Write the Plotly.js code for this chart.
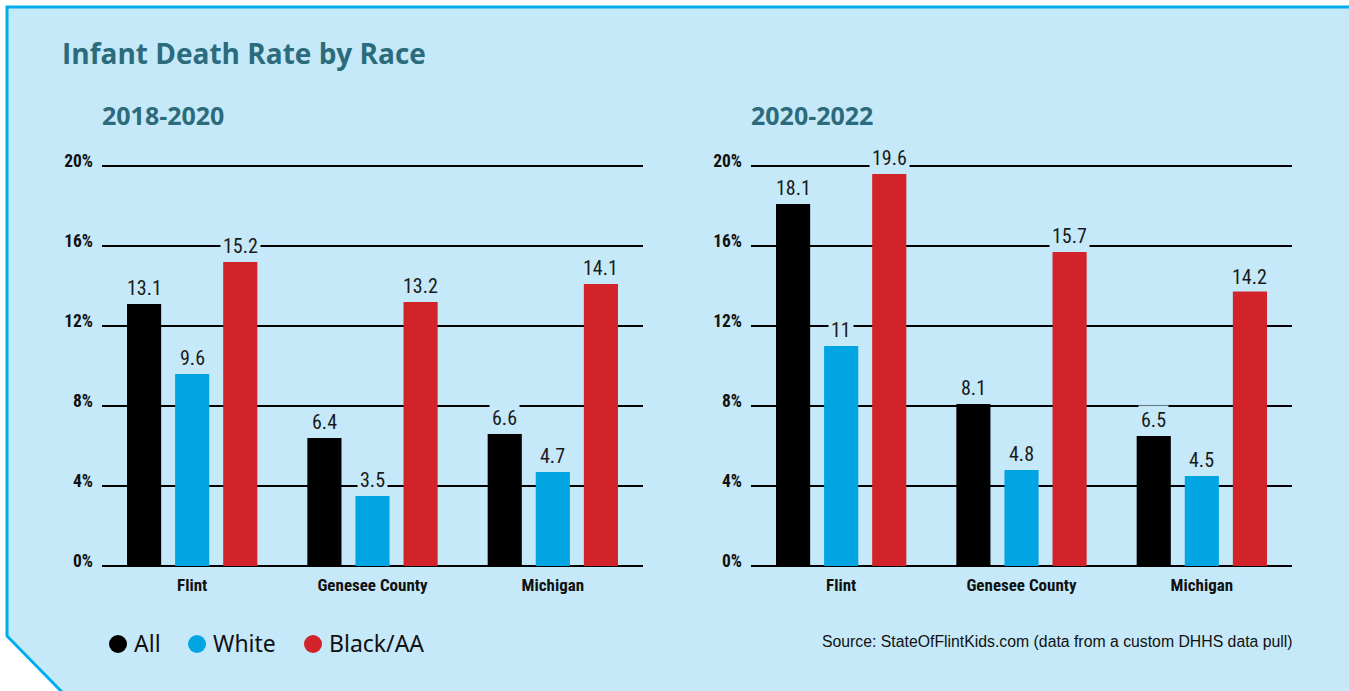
<!DOCTYPE html>
<html>
<head>
<meta charset="utf-8">
<script src="https://cdn.plot.ly/plotly-3.0.1.min.js"></script>
<style>
  html, body { margin: 0; padding: 0; background: #ffffff; }
  #chart { width: 1349px; height: 691px; }
</style>
</head>
<body>
<div id="chart"></div>
<script>
// ---------- data ----------
const categories = ['Flint', 'Genesee County', 'Michigan'];
const seriesNames = ['All', 'White', 'Black/AA'];
const periods = ['2018-2020', '2020-2022'];

const all_2018 = [13.1, 6.4, 6.6];
const white_2018 = [9.6, 3.5, 4.7];
const black_2018 = [15.2, 13.2, 14.1];

const all_2020 = [18.1, 8.1, 6.5];
const white_2020 = [11, 4.8, 4.5];
const black_2020 = [19.6, 15.7, 14.2];

const yTickVals = [0, 4, 8, 12, 16, 20];
const yTickText = ['0%', '4%', '8%', '12%', '16%', '20%'];

const chartTitle = 'Infant Death Rate by Race';
const sourceText = 'Source: StateOfFlintKids.com (data from a custom DHHS data pull)';

// ---------- style ----------
const W = 1349, H = 691;
const BG = '#c6e9f9';
const BORDER = '#00aeef';
const TEAL = '#2b6b7b';
const seriesColors = ['#000000', '#00a5e2', '#d2232a'];
const BARGAP = 0.2, BARGROUPGAP = 0.29;
const NARROW = '"Roboto Condensed", "Liberation Sans Narrow", "DejaVu Sans Condensed", "DejaVu Sans", sans-serif';
const px = v => v / W;
const py = v => 1 - v / H;

const panels = [
  { x0: 102, x1: 643, data: [all_2018, white_2018, black_2018], xa: 'x', ya: 'y' },
  { x0: 751, x1: 1292, data: [all_2020, white_2020, black_2020], xa: 'x2', ya: 'y2' }
];
const yTop = 162, yBot = 566; // pixel rows for range ends (0 .. 20.2)

// the right-hand Michigan Black/AA label sits over its bar top in the original
const labelShiftOverride = { '1-2-2': -10 };

const traces = [];
const annotations = [];

panels.forEach((p, pi) => {
  p.data.forEach((vals, si) => {
    traces.push({
      type: 'bar',
      name: seriesNames[si],
      x: categories,
      y: vals,
      xaxis: p.xa,
      yaxis: p.ya,
      marker: { color: seriesColors[si], line: { width: 0 } },
      showlegend: false,
      hoverinfo: 'x+y'
    });
    const catW = (p.x1 - p.x0) / categories.length;
    const slot = catW * (1 - BARGAP) / seriesNames.length;
    vals.forEach((v, ci) => {
      const key = pi + '-' + si + '-' + ci;
      annotations.push({
        xref: p.xa, yref: p.ya,
        x: categories[ci], y: v,
        xanchor: 'center', yanchor: 'bottom',
        xshift: (si - 1) * slot,
        yshift: key in labelShiftOverride ? labelShiftOverride[key] : 1,
        text: String(v),
        showarrow: false,
        bgcolor: BG,
        borderpad: 2,
        font: { family: NARROW, size: 20, color: '#1a1a1a' }
      });
    });
  });
  annotations.push({
    xref: 'paper', yref: 'paper',
    x: px(p.x0 - 2), y: py(115),
    xanchor: 'left', yanchor: 'middle',
    text: '<b>' + periods[pi] + '</b>',
    showarrow: false,
    font: { family: '"Open Sans", sans-serif', size: 25, color: TEAL }
  });
});

annotations.push({
  xref: 'paper', yref: 'paper',
  x: px(60), y: py(53),
  xanchor: 'left', yanchor: 'middle',
  text: '<b>' + chartTitle + '</b>',
  showarrow: false,
  font: { family: '"Open Sans", sans-serif', size: 28, color: TEAL }
});

annotations.push({
  xref: 'paper', yref: 'paper',
  x: px(1295), y: py(641),
  xanchor: 'right', yanchor: 'middle',
  text: sourceText,
  showarrow: false,
  font: { family: '"Liberation Sans", Arial, sans-serif', size: 15.8, color: '#111111' }
});

// legend (circles + labels)
const legendCircleX = [118, 197, 313];
const shapes = [];
shapes.push({
  type: 'path', xref: 'paper', yref: 'paper', layer: 'below',
  path: `M ${px(7)} ${py(7)} L ${px(W)} ${py(7)} L ${px(W)} ${py(H)} L ${px(62)} ${py(H)} L ${px(7)} ${py(636)} Z`,
  fillcolor: BG, line: { width: 0 }
});
shapes.push({
  type: 'path', xref: 'paper', yref: 'paper', layer: 'below',
  path: `M ${px(W + 5)} ${py(7)} L ${px(7)} ${py(7)} L ${px(7)} ${py(636)} L ${px(62)} ${py(H + 1)}`,
  line: { color: BORDER, width: 3 }
});
seriesNames.forEach((n, i) => {
  const cx = legendCircleX[i], cy = 644, r = 9;
  shapes.push({
    type: 'circle', xref: 'paper', yref: 'paper', layer: 'above',
    x0: px(cx - r), x1: px(cx + r), y0: py(cy + r), y1: py(cy - r),
    fillcolor: seriesColors[i], line: { width: 0 }
  });
  annotations.push({
    xref: 'paper', yref: 'paper',
    x: px(cx + r + 5), y: py(cy - 1),
    xanchor: 'left', yanchor: 'middle',
    text: n, showarrow: false,
    font: { family: '"Noto Sans", sans-serif', size: 23, color: '#111111' }
  });
});

const yAxisBase = {
  range: [0, 20.2],
  tickvals: yTickVals,
  ticktext: yTickText,
  showgrid: true,
  gridcolor: '#000000',
  gridwidth: 1.3,
  zeroline: true,
  zerolinecolor: '#000000',
  zerolinewidth: 1.6,
  showline: false,
  ticks: '',
  ticklabelstandoff: 8,
  ticklabelshift: -5,
  tickfont: { family: NARROW, size: 17.5, color: '#111111', weight: 'bold' },
  fixedrange: true,
  domain: [py(yBot), py(yTop)]
};
const xAxisBase = {
  type: 'category',
  showgrid: false,
  zeroline: false,
  showline: false,
  ticks: '',
  ticklabelstandoff: 7,
  tickfont: { family: NARROW, size: 17, color: '#111111', weight: 'bold' },
  fixedrange: true
};

const layout = {
  width: W, height: H,
  margin: { l: 0, r: 0, t: 0, b: 0, pad: 0 },
  paper_bgcolor: '#ffffff',
  plot_bgcolor: 'rgba(0,0,0,0)',
  barmode: 'group',
  bargap: BARGAP,
  bargroupgap: BARGROUPGAP,
  showlegend: false,
  xaxis: Object.assign({}, xAxisBase, { domain: [px(panels[0].x0), px(panels[0].x1)], anchor: 'y' }),
  yaxis: Object.assign({}, yAxisBase, { anchor: 'x' }),
  xaxis2: Object.assign({}, xAxisBase, { domain: [px(panels[1].x0), px(panels[1].x1)], anchor: 'y2' }),
  yaxis2: Object.assign({}, yAxisBase, { anchor: 'x2' }),
  annotations: annotations,
  shapes: shapes
};

function condense() {
  document.querySelectorAll('#chart text').forEach(t => {
    if ((t.style.fontFamily || '').indexOf('Condensed') !== -1) {
      t.style.fontStretch = 'condensed';
    }
  });
}

Plotly.newPlot('chart', traces, layout, { displayModeBar: false, staticPlot: true }).then(condense);
</script>
</body>
</html>
